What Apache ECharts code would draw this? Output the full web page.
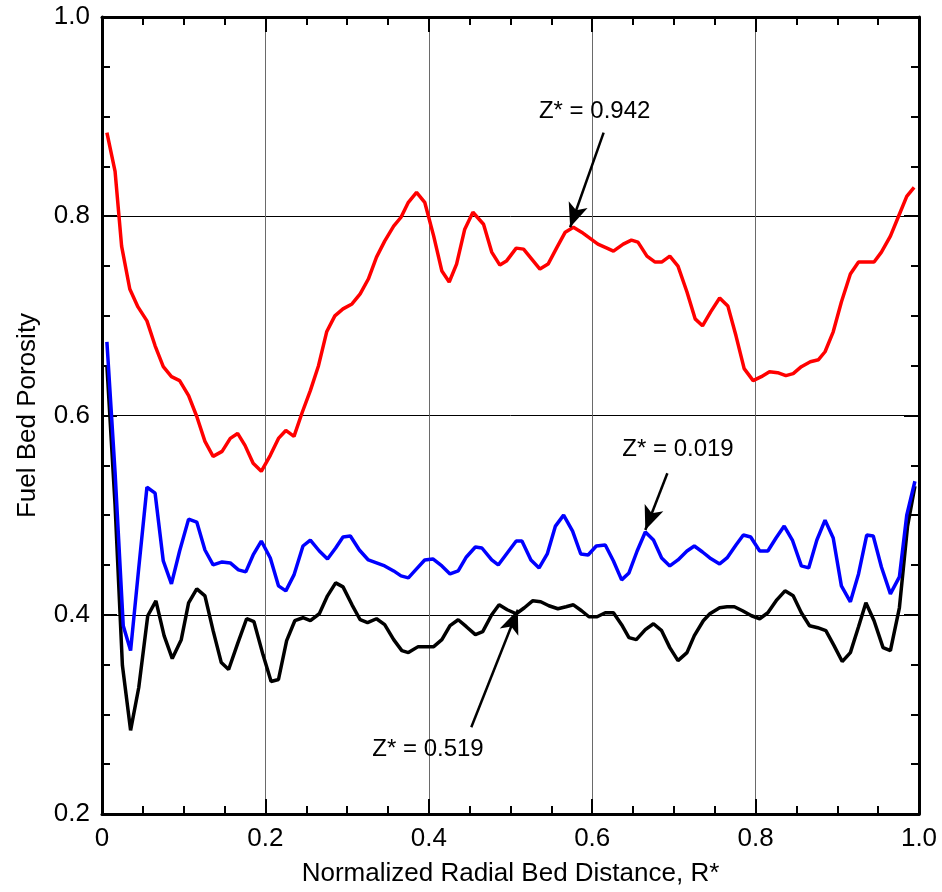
<!DOCTYPE html>
<html>
<head>
<meta charset="utf-8">
<script src="https://cdn.jsdelivr.net/npm/echarts@6/dist/echarts.min.js"></script>
<style>html,body{margin:0;padding:0;background:#fff}#c{width:942px;height:892px}</style>
</head>
<body>
<div id="c"></div>
<script>
// ---- data ----
const redX = [0.006,0.016,0.024,0.034,0.044,0.055,0.065,0.075,0.085,0.095,0.106,0.116,0.126,0.136,0.147,0.157,0.166,0.175,0.185,0.195,0.206,0.216,0.225,0.235,0.245,0.255,0.265,0.275,0.285,0.295,0.306,0.316,0.326,0.336,0.346,0.357,0.366,0.375,0.385,0.395,0.406,0.416,0.425,0.434,0.444,0.454,0.467,0.477,0.487,0.495,0.507,0.516,0.526,0.536,0.546,0.557,0.567,0.577,0.587,0.597,0.607,0.618,0.626,0.638,0.648,0.656,0.667,0.677,0.685,0.695,0.705,0.716,0.726,0.735,0.745,0.756,0.766,0.776,0.786,0.797,0.807,0.817,0.827,0.837,0.846,0.856,0.867,0.877,0.885,0.895,0.905,0.916,0.926,0.935,0.945,0.954,0.965,0.975,0.985,0.994];
const redY = [0.884,0.845,0.770,0.727,0.709,0.695,0.670,0.649,0.639,0.635,0.620,0.599,0.574,0.559,0.564,0.577,0.582,0.570,0.552,0.544,0.560,0.577,0.585,0.579,0.603,0.625,0.650,0.684,0.700,0.707,0.712,0.722,0.737,0.759,0.775,0.790,0.799,0.814,0.824,0.814,0.780,0.745,0.734,0.752,0.787,0.804,0.792,0.764,0.751,0.755,0.768,0.767,0.757,0.747,0.752,0.769,0.784,0.789,0.784,0.778,0.772,0.768,0.765,0.772,0.776,0.774,0.760,0.754,0.754,0.760,0.750,0.724,0.697,0.690,0.704,0.718,0.710,0.680,0.647,0.635,0.639,0.644,0.643,0.640,0.642,0.649,0.654,0.656,0.664,0.684,0.714,0.742,0.754,0.754,0.754,0.764,0.780,0.800,0.820,0.829];

const blueX = [0.006,0.016,0.026,0.035,0.045,0.055,0.065,0.075,0.085,0.095,0.106,0.116,0.126,0.136,0.147,0.157,0.167,0.176,0.185,0.195,0.206,0.216,0.225,0.235,0.246,0.255,0.266,0.276,0.286,0.295,0.304,0.315,0.326,0.336,0.346,0.357,0.366,0.375,0.385,0.395,0.405,0.416,0.426,0.436,0.446,0.457,0.465,0.477,0.485,0.496,0.507,0.514,0.525,0.535,0.545,0.555,0.565,0.576,0.586,0.595,0.605,0.616,0.626,0.636,0.645,0.655,0.665,0.675,0.685,0.695,0.705,0.716,0.725,0.735,0.744,0.756,0.765,0.776,0.785,0.794,0.805,0.815,0.825,0.835,0.845,0.856,0.865,0.875,0.885,0.895,0.905,0.916,0.926,0.936,0.944,0.954,0.965,0.976,0.985,0.995];
const blueY = [0.674,0.543,0.389,0.364,0.447,0.528,0.522,0.454,0.431,0.464,0.496,0.493,0.465,0.450,0.453,0.452,0.445,0.443,0.460,0.474,0.457,0.429,0.424,0.440,0.469,0.475,0.464,0.456,0.467,0.478,0.479,0.465,0.455,0.452,0.449,0.444,0.439,0.437,0.446,0.455,0.456,0.449,0.441,0.444,0.458,0.468,0.467,0.455,0.450,0.462,0.474,0.474,0.455,0.447,0.461,0.489,0.500,0.484,0.461,0.460,0.469,0.470,0.454,0.435,0.442,0.464,0.483,0.475,0.457,0.449,0.455,0.464,0.469,0.463,0.457,0.451,0.457,0.470,0.480,0.478,0.464,0.464,0.477,0.489,0.475,0.449,0.447,0.475,0.495,0.477,0.429,0.413,0.441,0.480,0.479,0.448,0.421,0.438,0.500,0.534];

const blackX = [0.006,0.016,0.025,0.035,0.045,0.056,0.066,0.076,0.086,0.097,0.106,0.116,0.126,0.136,0.146,0.155,0.166,0.177,0.186,0.197,0.207,0.216,0.226,0.236,0.246,0.255,0.266,0.276,0.286,0.295,0.306,0.316,0.325,0.336,0.346,0.357,0.367,0.375,0.387,0.397,0.406,0.416,0.426,0.436,0.446,0.457,0.466,0.477,0.486,0.496,0.507,0.517,0.527,0.537,0.547,0.558,0.568,0.577,0.587,0.596,0.606,0.616,0.626,0.636,0.645,0.654,0.665,0.675,0.685,0.695,0.705,0.716,0.725,0.736,0.744,0.756,0.765,0.774,0.784,0.795,0.805,0.815,0.826,0.836,0.846,0.856,0.866,0.876,0.886,0.896,0.906,0.916,0.926,0.935,0.945,0.956,0.965,0.976,0.986,0.995];
const blackY = [0.650,0.510,0.349,0.284,0.327,0.399,0.414,0.379,0.356,0.375,0.412,0.426,0.419,0.384,0.352,0.345,0.371,0.396,0.393,0.360,0.333,0.335,0.374,0.394,0.397,0.394,0.401,0.419,0.432,0.428,0.410,0.395,0.392,0.396,0.390,0.375,0.364,0.362,0.368,0.368,0.368,0.375,0.389,0.395,0.388,0.380,0.383,0.400,0.410,0.405,0.401,0.407,0.414,0.413,0.409,0.406,0.408,0.410,0.404,0.398,0.398,0.402,0.402,0.390,0.377,0.375,0.385,0.391,0.384,0.367,0.354,0.362,0.379,0.394,0.401,0.407,0.408,0.408,0.404,0.399,0.396,0.402,0.415,0.424,0.419,0.402,0.389,0.387,0.384,0.369,0.353,0.362,0.388,0.412,0.394,0.367,0.364,0.407,0.489,0.529];

const xTickLabels = ['0','0.2','0.4','0.6','0.8','1.0'];
const yTickLabels = ['0.2','0.4','0.6','0.8','1.0'];

// annotations
const annLabels = ['Z* = 0.942','Z* = 0.019','Z* = 0.519'];
const annText = [[0.603,0.905],[0.705,0.566],[0.399,0.265]];
const annFrom = [[0.614,0.884],[0.692,0.542],[0.452,0.287]];
const annTo = [[0.573,0.789],[0.665,0.485],[0.509,0.405]];

const FONT = 'Liberation Sans, Arial, sans-serif';
const pairs = (xs, ys) => xs.map((x,i)=>[x, ys[i]]);

const chart = echarts.init(document.getElementById('c'), null, {renderer:'canvas'});

function axisCommon(showLabels, gridColor, labels, isX){
  return {
    type:'value', min: isX?0:0.2, max:1, interval:0.2,
    axisLine:{show:true, onZero:false, lineStyle:{color:'#000', width:3}},
    axisTick:{show:true, inside:true, length:15, lineStyle:{color:'#000', width:2}},
    minorTick:{show:true, splitNumber:4, length:8, lineStyle:{color:'#000', width:2}},
    axisLabel:{show:showLabels, color:'#000', fontSize:26, fontFamily:FONT, margin:12,
      formatter:(v)=>{
        const idx = Math.round((v-(isX?0:0.2))/0.2);
        return labels[idx] !== undefined ? labels[idx] : '';
      }},
    splitLine:{show:showLabels, lineStyle:{color:gridColor, width:1}},
    minorSplitLine:{show:false}
  };
}

const option = {
  animation:false,
  backgroundColor:'#fff',
  grid:{left:102, right:23, top:17, bottom:75, containLabel:false},
  xAxis:[
    Object.assign(axisCommon(true,'#6a6a6a',xTickLabels,true),{
      position:'bottom',
      name:'Normalized Radial Bed Distance, R*', nameLocation:'middle', nameGap:47,
      nameTextStyle:{color:'#000', fontSize:26, fontFamily:FONT}
    }),
    Object.assign(axisCommon(false,'#6a6a6a',xTickLabels,true),{position:'top'})
  ],
  yAxis:[
    Object.assign(axisCommon(true,'#000',yTickLabels,false),{
      position:'left',
      name:'Fuel Bed Porosity', nameLocation:'middle', nameGap:61,
      nameTextStyle:{color:'#000', fontSize:26, fontFamily:FONT}
    }),
    Object.assign(axisCommon(false,'#000',yTickLabels,false),{position:'right'})
  ],
  series:[
    {type:'line', name:'Z*=0.942', data:pairs(redX,redY), showSymbol:false, symbol:'none',
     lineStyle:{color:'#ff0000', width:3.5}, z:3},
    {type:'line', name:'Z*=0.519', data:pairs(blackX,blackY), showSymbol:false, symbol:'none',
     lineStyle:{color:'#000', width:3.5}, z:4},
    {type:'line', name:'Z*=0.019', data:pairs(blueX,blueY), showSymbol:false, symbol:'none',
     lineStyle:{color:'#0000ff', width:3.5}, z:5},
    {type:'line', name:'annotations', data:[], z:6,
     markLine:{silent:true, symbol:['none','arrow'], symbolSize:[15,24], animation:false,
       label:{show:false}, lineStyle:{color:'#000', width:2.5, type:'solid'},
       data: annFrom.map((f,i)=>[{coord:f},{coord:annTo[i]}])}}
  ]
};
chart.setOption(option);

const graphics = annLabels.map((t,i)=>{
  const p = chart.convertToPixel({xAxisIndex:0, yAxisIndex:0}, annText[i]);
  return {type:'text', x:p[0], y:p[1], z:10,
    style:{text:t, fill:'#000', font:'24px '+FONT, textAlign:'center', textVerticalAlign:'middle'}};
});
chart.setOption({graphic:graphics});
</script>
</body>
</html>
